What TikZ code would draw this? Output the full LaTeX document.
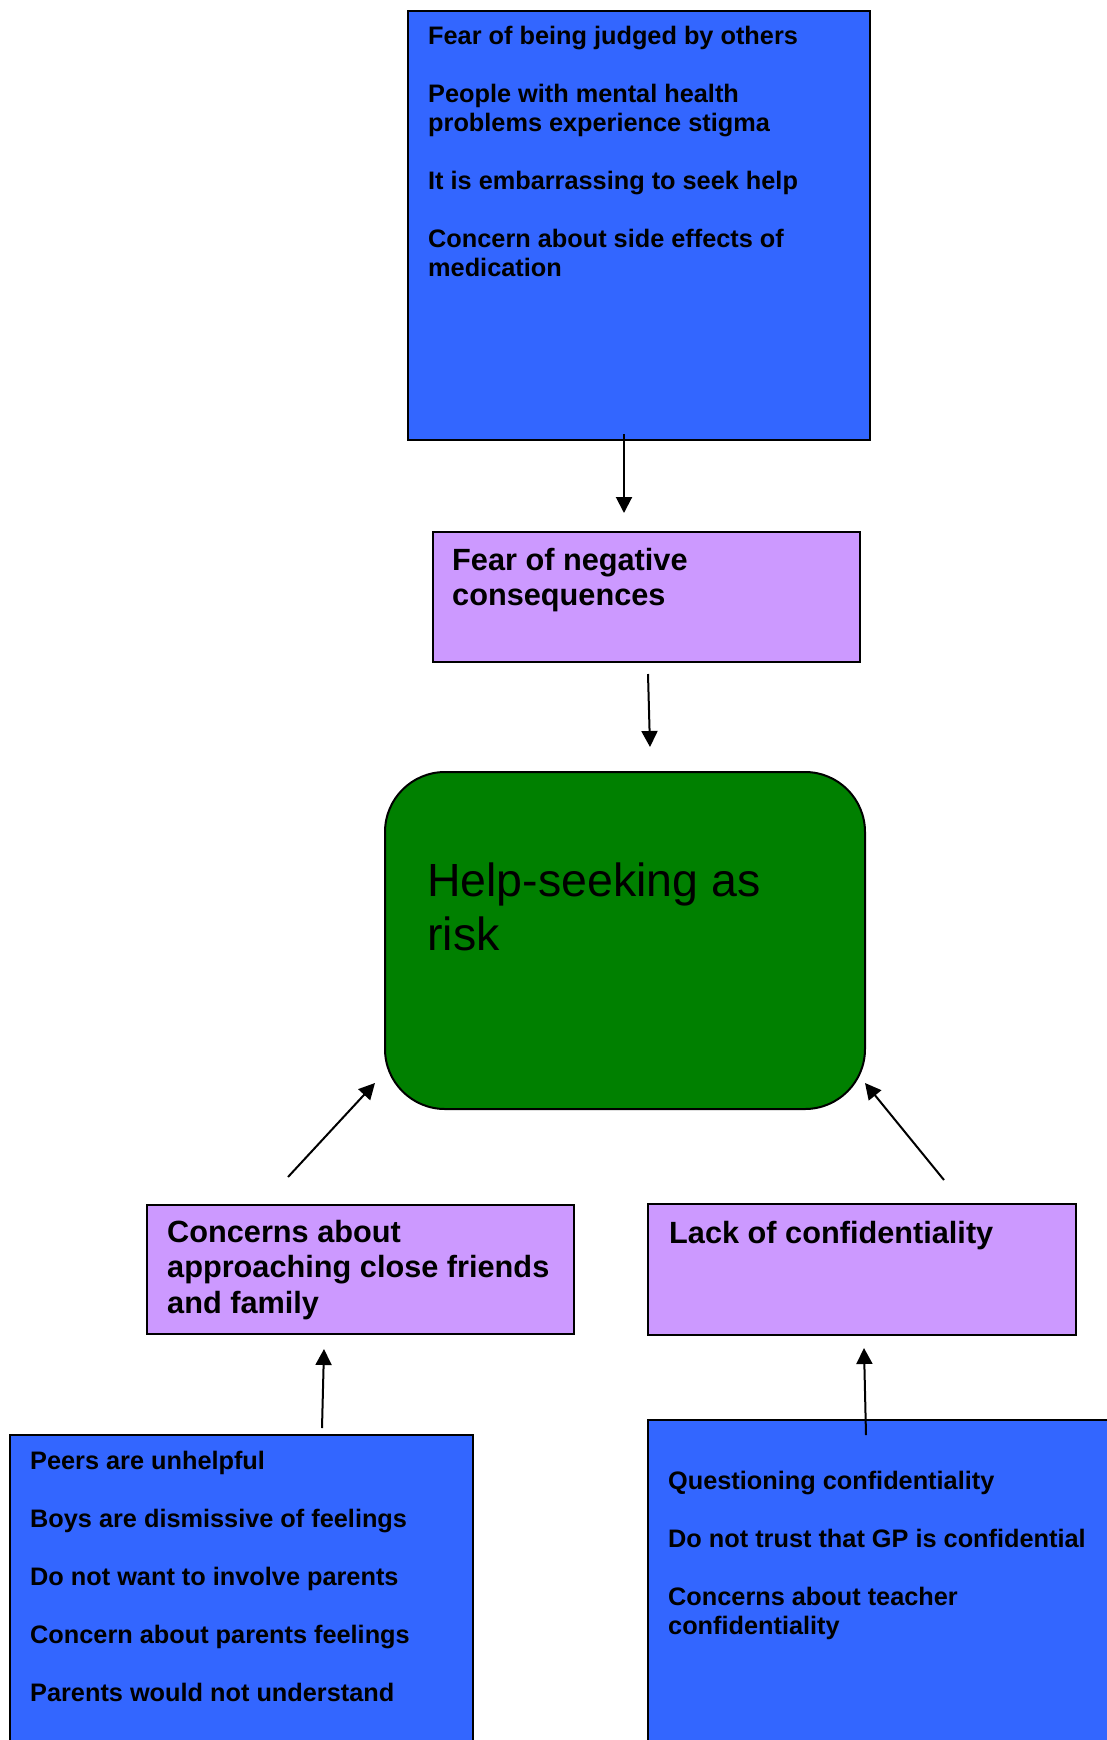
\documentclass[tikz,border=0pt]{standalone}
\usepackage{fontspec}
\setmainfont{Liberation Sans}
\usetikzlibrary{arrows.meta}

\definecolor{itemblue}{HTML}{3366FF}
\definecolor{themepurple}{HTML}{CC99FF}
\definecolor{coregreen}{HTML}{008000}

\newcommand{\itemfont}{\fontsize{25.3}{29}\selectfont\bfseries}
\newcommand{\themefont}{\fontsize{30.7}{35.5}\selectfont\bfseries}
\newcommand{\corefont}{\fontsize{46.5}{54}\selectfont}

\tikzset{
  box/.style={draw=black, line width=2pt, rectangle, inner sep=0pt, anchor=north west},
  bluebox/.style={box, fill=itemblue},
  themebox/.style={box, fill=themepurple},
  corebox/.style={box, fill=coregreen, rounded corners=60pt},
  boxtext/.style={anchor=base west, inner sep=0pt},
  link/.style={-{Triangle[length=16pt,width=16pt]}, line width=2pt}
}

\begin{document}
\begin{tikzpicture}[x=1pt, y=-1pt]
\useasboundingbox (0,0) rectangle (1107,1740);
\clip (0,0) rectangle (1107,1740);

% boxes
\node[bluebox, minimum width=462pt, minimum height=429pt] (stigma) at (407,10) {};
\node[themebox, minimum width=427pt, minimum height=130pt] (negative) at (432,531) {};
\node[corebox, minimum width=480pt, minimum height=337pt] (risk) at (384,771) {};
\node[themebox, minimum width=427pt, minimum height=129pt] (closeones) at (146,1204) {};
\node[themebox, minimum width=428pt, minimum height=131pt] (confid) at (647,1203) {};
\node[bluebox, minimum width=463pt, minimum height=400pt] (peers) at (9,1434) {};
\node[bluebox, minimum width=480pt, minimum height=400pt] (trust) at (647,1419) {};

% texts
\node[boxtext] (stigmaText) at (428,44) {\parbox[t]{440pt}{\itemfont\raggedright
  Fear of being judged by others\\[29pt]
  People with mental health\\
  problems experience stigma\\[29pt]
  It is embarrassing to seek help\\[29pt]
  Concern about side effects of\\
  medication}};
\node[boxtext] (negativeText) at (452,570) {\parbox[t]{400pt}{\themefont\raggedright
  Fear of negative\\consequences}};
\node[boxtext] (riskText) at (427,896) {\parbox[t]{420pt}{\corefont\raggedright
  Help-seeking as\\risk}};
\node[boxtext] (closeonesText) at (167,1242) {\parbox[t]{420pt}{\themefont\raggedright
  Concerns about\\approaching close friends\\and family}};
\node[boxtext] (confidText) at (669,1243) {\parbox[t]{420pt}{\themefont\raggedright
  Lack of confidentiality}};
\node[boxtext] (peersText) at (30,1469) {\parbox[t]{440pt}{\itemfont\raggedright
  Peers are unhelpful\\[29pt]
  Boys are dismissive of feelings\\[29pt]
  Do not want to involve parents\\[29pt]
  Concern about parents feelings\\[29pt]
  Parents would not understand}};
\node[boxtext] (trustText) at (668,1489) {\parbox[t]{440pt}{\itemfont\raggedright
  Questioning confidentiality\\[29pt]
  Do not trust that GP is confidential\\[29pt]
  Concerns about teacher\\
  confidentiality}};

% connector end points
\coordinate (stigmaOut) at (624,434);
\coordinate (negativeIn) at (624,513);
\coordinate (negativeOut) at (648,674);
\coordinate (riskTop) at (650,747);
\coordinate (closeonesOut) at (288,1177);
\coordinate (riskLeft) at (375,1083);
\coordinate (confidOut) at (944,1180);
\coordinate (riskRight) at (865,1083);
\coordinate (peersOut) at (322,1428);
\coordinate (closeonesIn) at (324,1349);
\coordinate (trustOut) at (866,1435);
\coordinate (confidIn) at (864,1348);

% connectors
\draw[link] (stigmaOut) -- (negativeIn);
\draw[link] (negativeOut) -- (riskTop);
\draw[link] (closeonesOut) -- (riskLeft);
\draw[link] (confidOut) -- (riskRight);
\draw[link] (peersOut) -- (closeonesIn);
\draw[link] (trustOut) -- (confidIn);
\end{tikzpicture}
\end{document}
